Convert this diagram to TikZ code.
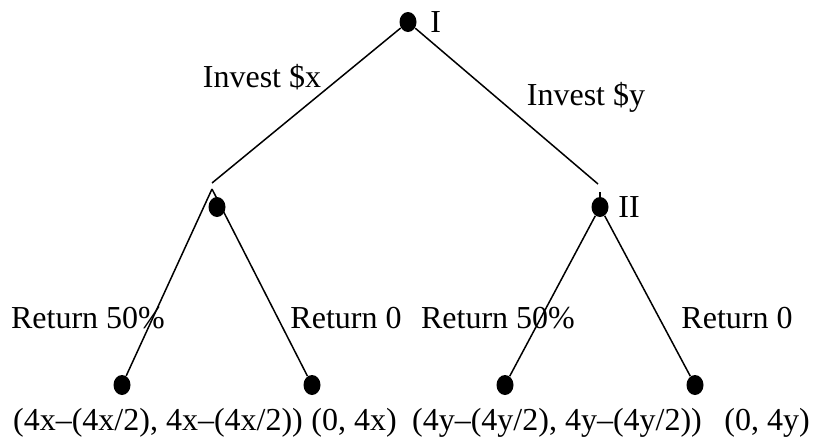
\documentclass[tikz,border=0pt]{standalone}
\usepackage{fontspec}
\setmainfont{Liberation Serif}
\usepackage{tikz}
\usetikzlibrary{positioning,shapes.geometric}

\begin{document}
\begin{tikzpicture}[
  x=0.5pt, y=-0.5pt,
  every node/.style={font=\fontsize{16}{19}\selectfont},
  dot/.style={ellipse, fill=black, inner sep=0pt, minimum width=8.5pt, minimum height=10pt},
  branch/.style={line width=0.75pt},
  move/.style={inner sep=1pt},
  payoff/.style={inner sep=0pt, anchor=base}
]
\useasboundingbox (0,0) rectangle (817,441);
% decision nodes
\node[dot] (root) at (408,22) {};
\node[right=11pt of root.center, anchor=west, inner sep=0pt] (rootlbl) {I};
\node[dot] (left) at (217,207) {};
\node[dot] (right) at (600,207) {};
\node[right=9pt of right.center, anchor=west, inner sep=0pt] (rightlbl) {II};
% leaves
\node[dot] (ll) at (122,385) {};
\node[dot] (lr) at (312,385) {};
\node[dot] (rl) at (505,385) {};
\node[dot] (rr) at (695,385) {};
% branch ends
\coordinate (lend) at (212,183);
\coordinate (rend) at (598,184);
\coordinate (ltop) at (212,189);
\coordinate (rtop) at (600,192);

\draw[branch] (root) -- (lend);
\draw[branch] (root) -- (rend);
\draw[branch] (ltop) -- (ll);
\draw[branch] (ltop) -- (lr);
\draw[branch] (rtop) -- (right);
\draw[branch] (right) -- (rl);
\draw[branch] (right) -- (rr);

% moves
\node[move] (ix) at (262,77) {Invest \$x};
\node[move] (iy) at (586,97) {Invest \$y};
\node[move] (r1) at (88,318) {Return 50\%};
\node[move] (r2) at (346,318) {Return 0};
\node[move] (r3) at (498,318) {Return 50\%};
\node[move] (r4) at (737,318) {Return 0};

% payoffs
\node[payoff] (p1) at (158,430) {(4x–(4x/2), 4x–(4x/2))};
\node[payoff] (p2) at (354,430) {(0, 4x)};
\node[payoff] (p3) at (557,430) {(4y–(4y/2), 4y–(4y/2))};
\node[payoff] (p4) at (767,430) {(0, 4y)};
\end{tikzpicture}
\end{document}
